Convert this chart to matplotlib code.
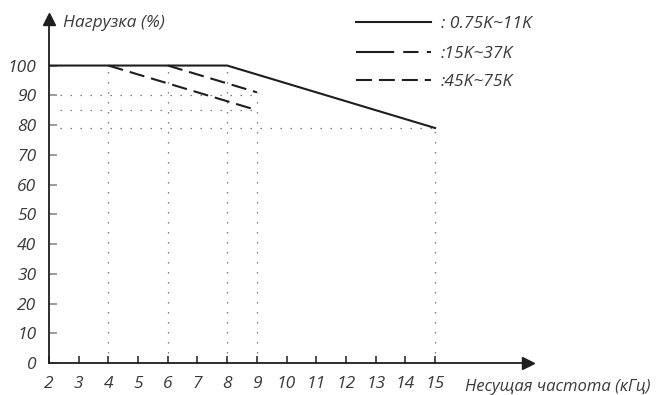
import matplotlib
matplotlib.use("Agg")
import matplotlib.pyplot as plt
from matplotlib.lines import Line2D

# data
freq_small = [2, 8, 15]        # 0.75K~11K
load_small = [100, 100, 79]
freq_mid = [6, 9]              # 15K~37K
load_mid = [100, 91]
freq_big = [4, 9]              # 45K~75K
load_big = [100, 85]

freq_ticks = list(range(2, 16))
load_ticks = list(range(0, 101, 10))

# dotted guide lines
guide_x = [4, 6, 8, 9, 15]
guide_x_top = [100, 100, 100, 91, 79]
guide_y = [90, 85, 79]
guide_y_end = [9, 9, 15]

legend_labels = [": 0.75K~11K", ":15K~37K", ":45K~75K"]

plt.rcParams['font.family'] = ['Open Sans', 'DejaVu Sans']
plt.rcParams['font.style'] = 'italic'
plt.rcParams['lines.scale_dashes'] = False

INK = '#1e1e1e'
TXT = '#3a3a3a'
DOT = '#6e6e6e'
W, H = 667, 395

fig = plt.figure(figsize=(W / 100, H / 100), dpi=100)
ax = fig.add_axes([49 / W, 32 / H, 490 / W, 351 / H])
ax.set_xlim(2, 18.5)
ax.set_ylim(0, 118)
for s in ax.spines.values():
    s.set_visible(False)

# guides
for x, top in zip(guide_x, guide_x_top):
    ax.plot([x, x], [0, top], color=DOT, lw=0.9, dashes=(1, 6.2), zorder=1)
for y, xe in zip(guide_y, guide_y_end):
    ax.plot([2.38, xe], [y, y], color=DOT, lw=0.9, dashes=(1, 6.2), zorder=1)

# curves
ax.plot(freq_small, load_small, color=INK, lw=1.5, zorder=3)
ax.plot(freq_mid, load_mid, color=INK, lw=1.5, dashes=(11, 5), zorder=3)
ax.plot(freq_big, load_big, color=INK, lw=1.5, dashes=(11, 5), zorder=3)

# axes with arrow heads
ax.plot([2, 2], [0, 115], color=INK, lw=1.3, clip_on=False, zorder=4)
ax.plot([2], [115.7], marker='^', ms=9, color=INK, clip_on=False, zorder=4)
ax.plot([2, 18], [0, 0], color=INK, lw=1.3, clip_on=False, zorder=4)
ax.plot([18.13], [0], marker='>', ms=9, color=INK, clip_on=False, zorder=4)

ax.set_xticks(freq_ticks)
ax.set_xticklabels([str(v) for v in freq_ticks])
ax.set_yticks(load_ticks)
ax.set_yticklabels([str(v) for v in load_ticks])
ax.tick_params(axis='x', direction='in', length=5, width=1.1, color=INK,
               pad=9, labelsize=12.5, labelcolor=TXT)
ax.tick_params(axis='y', direction='in', length=5.8, width=1.1, color='#808080',
               pad=9, labelsize=12.5, labelcolor=TXT)

# axis titles
fig.text(63 / W, 1 - 27 / H, "Нагрузка (%)", fontsize=12.5,
         color=TXT, ha='left', va='baseline')
fig.text(465 / W, 1 - 391 / H, "Несущая частота (кГц)",
         fontsize=12, color=TXT, ha='left', va='baseline')

# hand-drawn legend
leg_y = [21.7, 51.7, 80]
leg_dash = [None, (27.5, 6.5, 11, 6, 11, 6), (11.5, 5)]
for yy, dsh, lab in zip(leg_y, leg_dash, legend_labels):
    ln = Line2D([356 / W, 431 / W], [1 - yy / H, 1 - yy / H],
                transform=fig.transFigure, color=INK, lw=1.5)
    if dsh is not None:
        ln.set_dashes(dsh)
    fig.add_artist(ln)
    fig.text(441 / W, 1 - (yy + 6) / H, lab, fontsize=12.5,
             color=TXT, ha='left', va='baseline')

fig.savefig("out.png", dpi=100)
